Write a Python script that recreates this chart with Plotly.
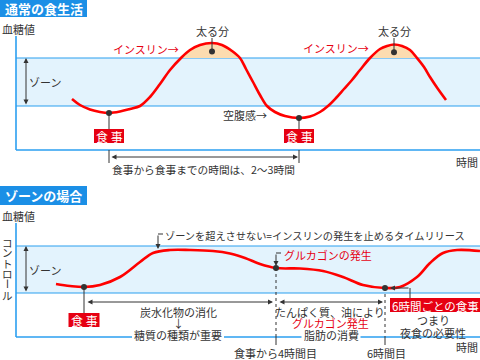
import plotly.graph_objects as go

# ---------------- data (x = time position, y = blood-sugar level, screen units from top) -------------
normal_x = [72, 80, 90, 100, 109, 120, 130, 140, 150, 160, 170, 181, 190, 200, 212, 222, 232, 240,
            246, 253, 260, 267, 275, 285, 299, 310, 320, 328, 336, 344, 352, 360, 370, 380, 387,
            394, 402, 410, 417, 424, 430, 438, 446]
normal_y = [99, 105, 109.5, 112, 113, 111.5, 109, 106, 97, 84, 70, 58, 50, 45, 43, 45, 51, 58,
            69, 82, 95, 106, 112, 116, 118, 116.5, 112, 106, 98, 89, 80, 70, 58, 49, 46,
            44.5, 46, 50, 58, 67, 77, 89, 100]
normal_meal_idx = [4, 24]          # 食事 points
normal_peak_idx = [14, 35]         # 太る分 peaks

zone_x = [56, 70, 84, 100, 120, 140, 153, 170, 190, 213, 230, 245, 260, 276, 300, 323, 343, 363,
          385, 400, 417, 430, 443, 457, 480]
zone_y = [284, 286, 287, 285, 277, 262, 253, 250, 250, 251, 253.5, 258, 264, 268, 268.5, 271, 277, 285,
          288, 287, 277, 263, 253, 250, 251]
zone_meal_idx = 2
zone_glucagon_idx = 13
zone_6h_idx = 18

# panel geometry
TOP_ZONE = (58, 106)
BOT_ZONE = (246, 293)
TOP_AXIS_Y = 150
BOT_AXIS_Y = 337
AXIS_X = 16

FONT = "Noto Sans CJK JP"
DARK = "#333333"
RED = "#e60012"
BLUE = "#2b9ff0"
TITLE_BLUE = "#1b8fe6"
ZONE_FILL = "#e3f3fd"
PEACH = "#fcdcb0"

fig = go.Figure()

# peach "太る分" fills (portions of curve above the zone)
def peak_segment(xs, ys, top):
    segs, cur = [], []
    for x, y in zip(xs, ys):
        if y <= top:
            cur.append((x, y))
        elif cur:
            segs.append(cur); cur = []
    if cur:
        segs.append(cur)
    return segs

for seg in peak_segment(normal_x, normal_y, TOP_ZONE[0]):
    fig.add_trace(go.Scatter(x=[p[0] for p in seg], y=[p[1] for p in seg], mode="lines",
                             line=dict(color=PEACH, width=0, shape="spline"),
                             fill="toself", fillcolor=PEACH, hoverinfo="skip"))

# curves
fig.add_trace(go.Scatter(x=normal_x, y=normal_y, mode="lines",
                         line=dict(color="#ff0000", width=2.6, shape="spline", smoothing=1.0),
                         hoverinfo="skip"))
fig.add_trace(go.Scatter(x=zone_x, y=zone_y, mode="lines",
                         line=dict(color="#ff0000", width=2.6, shape="spline", smoothing=1.0),
                         hoverinfo="skip"))

shapes = []
annotations = []

def line(x0, y0, x1, y1, color=DARK, width=1, dash="solid", layer="above"):
    shapes.append(dict(type="line", x0=x0, y0=y0, x1=x1, y1=y1, xref="x", yref="y",
                       line=dict(color=color, width=width, dash=dash), layer=layer))

def rect(x0, y0, x1, y1, fill, layer="below"):
    shapes.append(dict(type="rect", x0=x0, y0=y0, x1=x1, y1=y1, xref="x", yref="y",
                       fillcolor=fill, line=dict(width=0), layer=layer))

def text(x, y, s, size=11, color=DARK, xanchor="center", bold=False, angle=0):
    if bold:
        s = "<b>" + s + "</b>"
    annotations.append(dict(x=x, y=y, xref="x", yref="y", text=s, showarrow=False, xanchor=xanchor,
                            yanchor="middle", font=dict(family=FONT, size=size, color=color),
                            textangle=angle))

def axis_text(x, y, s, size=11):
    """text sitting on the axis line, which is broken behind it"""
    w = len(s) * size + 4
    rect(x - w / 2, y - 3, x + w / 2, y + 3, "white", layer="above")
    text(x, y, s, size=size)

def arrow(x0, y0, x1, y1, both=False):
    annotations.append(dict(x=x1, y=y1, ax=x0, ay=y0, xref="x", yref="y", axref="x", ayref="y",
                            text="", showarrow=True, arrowhead=2, arrowsize=1, arrowwidth=1,
                            arrowcolor=DARK, arrowside="end+start" if both else "end",
                            startarrowhead=2, startarrowsize=1, standoff=0, startstandoff=0))

def boxlabel(x0, y0, x1, y1, s, size=12):
    rect(x0, y0, x1, y1, RED, layer="above")
    text((x0 + x1) / 2, (y0 + y1) / 2 + 0.5, s, size=size, color="white")

# ======================= top panel =======================
rect(0, 0, 87, 17, TITLE_BLUE, layer="above")
text(43.5, 8.5, "通常の食生活", size=13, color="white", bold=True)
text(0, 29, "血糖値", size=11, xanchor="left")
rect(AXIS_X, TOP_ZONE[0], 480, TOP_ZONE[1], ZONE_FILL)
line(AXIS_X, TOP_ZONE[0], 480, TOP_ZONE[0], color=BLUE, width=1.2, layer="below")
line(AXIS_X, TOP_ZONE[1], 480, TOP_ZONE[1], color=BLUE, width=1.2, layer="below")
line(AXIS_X, 36, AXIS_X, TOP_AXIS_Y, color=BLUE, width=1.6, layer="below")
line(AXIS_X, TOP_AXIS_Y, 480, TOP_AXIS_Y, color=BLUE, width=1.6, layer="below")
arrow(26, TOP_ZONE[1], 26, TOP_ZONE[0], both=True)
text(45, 82, "ゾーン")

for i, pi in enumerate(normal_peak_idx):
    px = normal_x[pi]
    dot_y = (normal_y[pi] + TOP_ZONE[0]) / 2 + 1
    line(px, 38, px, dot_y)
    fig.add_trace(go.Scatter(x=[px], y=[dot_y], mode="markers",
                             marker=dict(color=DARK, size=6), hoverinfo="skip"))
    text(px, 31, "太る分")
text(181, 49, "インスリン→", color=RED, xanchor="right")
text(371, 48, "インスリン→", color=RED, xanchor="right")

for mi in normal_meal_idx:
    mx, my = normal_x[mi], normal_y[mi]
    line(mx, my, mx, 129)
    fig.add_trace(go.Scatter(x=[mx], y=[my], mode="markers",
                             marker=dict(color=DARK, size=6), hoverinfo="skip"))
    boxlabel(mx - 15, 129, mx + 15, 143, "食 事")
    line(mx, TOP_AXIS_Y, mx, 163)
arrow(normal_x[normal_meal_idx[0]] + 1, 157, normal_x[normal_meal_idx[1]] - 1, 157, both=True)
text(203, 169, "食事から食事までの時間は、2～3時間", size=10.7)
text(269, 115, "空腹感→", xanchor="right")
text(480, 162, "時間", xanchor="right")

# ======================= bottom panel =======================
rect(0, 186, 87, 205, TITLE_BLUE, layer="above")
text(43.5, 195.5, "ゾーンの場合", size=13, color="white", bold=True)
text(0, 216, "血糖値", size=11, xanchor="left")
rect(AXIS_X, BOT_ZONE[0], 480, BOT_ZONE[1], ZONE_FILL)
line(AXIS_X, BOT_ZONE[0], 480, BOT_ZONE[0], color=BLUE, width=1.2, layer="below")
line(AXIS_X, BOT_ZONE[1], 480, BOT_ZONE[1], color=BLUE, width=1.2, layer="below")
line(AXIS_X, 223, AXIS_X, BOT_AXIS_Y, color=BLUE, width=1.6, layer="below")
line(AXIS_X, BOT_AXIS_Y, 480, BOT_AXIS_Y, color=BLUE, width=1.6, layer="below")
arrow(26, BOT_ZONE[1], 26, BOT_ZONE[0], both=True)
text(45, 270, "ゾーン")

control_chars = ["コ", "ン", "ト", "ロ", "ー", "ル"]
control_ys = [242, 252.5, 263, 273.5, 284, 295]
for ch, cy in zip(control_chars, control_ys):
    text(7.5, cy, ch, size=10.5, angle=90 if ch == "ー" else 0)

# time-release note
line(158, 234, 163, 234)
arrow(158, 234, 158, 249)
text(163, 235, "ゾーンを超えさせない=インスリンの発生を止めるタイムリリース", size=10.2, xanchor="left")

# meal
mx, my = zone_x[zone_meal_idx], zone_y[zone_meal_idx]
line(mx, my, mx, 313)
boxlabel(mx - 15.5, 313, mx + 15.5, 327, "食 事")

# glucagon
gx, gy = zone_x[zone_glucagon_idx], zone_y[zone_glucagon_idx]
line(gx, 253, gx + 5, 253)
arrow(gx, 253, gx, gy - 2)
text(282, 255, "グルカゴンの発生", color=RED, xanchor="left")
line(gx, gy, gx, BOT_AXIS_Y, dash="dot")
line(gx, BOT_AXIS_Y, gx, 345)

# 6h meal
sx, sy = zone_x[zone_6h_idx], zone_y[zone_6h_idx]
line(sx, sy, sx, BOT_AXIS_Y, dash="dot")
line(sx, BOT_AXIS_Y, sx, 345)
line(410, sy, 410, 298)
arrow(410, sy, sx + 5, sy)
boxlabel(390, 298, 480, 312, "6時間ごとの食事", size=11.5)

for px, py in [(mx, my), (gx, gy), (sx, sy)]:
    fig.add_trace(go.Scatter(x=[px], y=[py], mode="markers",
                             marker=dict(color=DARK, size=6), hoverinfo="skip"))

arrow(mx + 2, 302, gx - 3, 302, both=True)
arrow(gx + 2, 302, sx - 2, 302, both=True)

text(178, 312, "炭水化物の消化")
text(178, 323, "↓")
axis_text(178, 335, "糖質の種類が重要")
text(330, 312, "たんぱく質、油により")
text(330, 323, "グルカゴン発生", color=RED)
axis_text(331, 335, "脂肪の消費")
text(433, 320, "つまり")
axis_text(433, 333, "夜食の必要性")
text(275, 353, "食事から4時間目")
text(386, 353, "6時間目")
text(480, 347, "時間", xanchor="right")

fig.update_layout(
    width=480, height=360, margin=dict(l=0, r=0, t=0, b=0),
    paper_bgcolor="white", plot_bgcolor="white", showlegend=False,
    xaxis=dict(range=[0, 480], visible=False, fixedrange=True),
    yaxis=dict(range=[360, 0], visible=False, fixedrange=True),
    shapes=shapes, annotations=annotations,
)
fig.write_html("out.html", config={"displayModeBar": False},
               post_script="document.body.style.margin='0';document.body.style.overflow='hidden';")
